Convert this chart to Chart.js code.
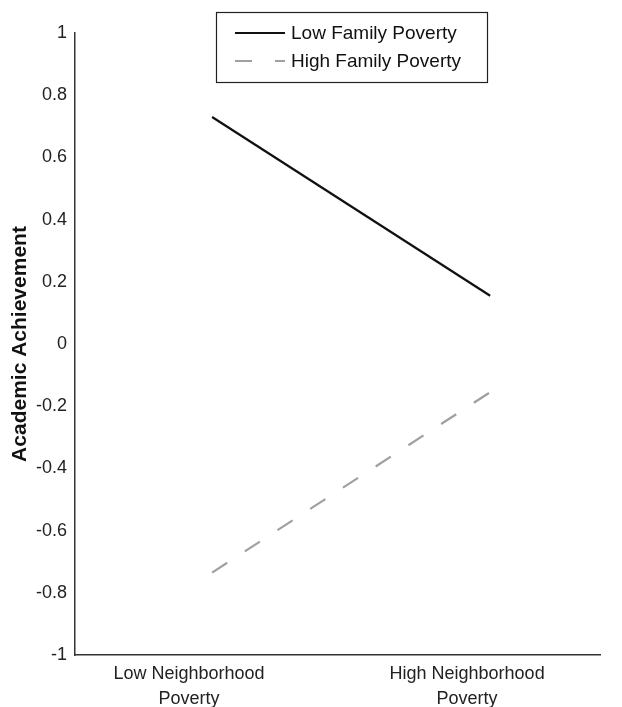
<!DOCTYPE html>
<html>
<head>
<meta charset="utf-8">
<script src="https://cdn.jsdelivr.net/npm/chart.js@4/dist/chart.umd.min.js"></script>
<style>
  html, body { margin:0; padding:0; background:#fff; }
  #wrap { width:622px; height:707px; position:relative; }
</style>
</head>
<body>
<div id="wrap"><canvas id="chart" width="622" height="707"></canvas></div>
<script>
// categories (x positions 0 and 1) and series values
const categories = [['Low Neighborhood', 'Poverty'], ['High Neighborhood', 'Poverty']];
const pointX = [0.083, 1.083];
const lowFamily = [0.73, 0.155];
const highFamily = [-0.735, -0.155];
const seriesNames = ['Low Family Poverty', 'High Family Poverty'];
const yTicks = [-1, -0.8, -0.6, -0.4, -0.2, 0, 0.2, 0.4, 0.6, 0.8, 1];

const FONT = "'Liberation Sans', Arial, sans-serif";

// legend box drawn on canvas with a frame
const boxLegend = {
    id: 'boxLegend',
    afterDraw(chart){
        const ctx = chart.ctx
        const x0 = 216.5, y0 = 12.5, w = 271, h = 70
        ctx.save()
        ctx.strokeStyle = '#222'
        ctx.lineWidth = 1.2
        ctx.strokeRect(x0, y0, w, h)
        chart.data.datasets.forEach(function(ds, i){
            const y = 33 + i * 28
            ctx.beginPath()
            ctx.strokeStyle = ds.borderColor
            ctx.lineWidth = 2
            ctx.setLineDash(ds.borderDash ? [17, 23] : [])
            ctx.moveTo(235, y)
            ctx.lineTo(285, y)
            ctx.stroke()
            ctx.setLineDash([])
            ctx.fillStyle = '#111'
            ctx.font = '19px ' + FONT
            ctx.textBaseline = 'middle'
            ctx.fillText(ds.label, 291, y + 1)
        })
        ctx.restore()
    }
}

const ctx = document.getElementById('chart').getContext('2d');
const myChart = new Chart(ctx, {
    type: 'line',
    data: {
        datasets: [{
            label: seriesNames[0],
            data: pointX.map(function(x, i){ return {x: x, y: lowFamily[i]} }),
            borderColor: '#111',
            borderWidth: 2.2,
            pointRadius: 0,
            fill: false
        }, {
            label: seriesNames[1],
            data: pointX.map(function(x, i){ return {x: x, y: highFamily[i]} }),
            borderColor: '#a0a0a0',
            borderWidth: 2.2,
            borderDash: [18, 21],
            pointRadius: 0,
            fill: false
        }]
    },
    options: {
        responsive: false,
        animation: false,
        layout: { padding: { top: 33, right: 22, left: 0, bottom: 0 } },
        plugins: {
            legend: { display: false },
            tooltip: { enabled: false }
        },
        scales: {
            x: {
                type: 'linear',
                min: -0.41,
                max: 1.478,
                afterBuildTicks: function(axis){
                    axis.ticks = categories.map(function(c, i){ return {value: i} })
                },
                afterFit: function(axis){ axis.height = 52 },
                grid: { display: false, drawTicks: false },
                border: { display: true, color: '#333', width: 1.5 },
                ticks: {
                    color: '#222',
                    padding: 7,
                    maxRotation: 0,
                    autoSkip: false,
                    font: { family: FONT, size: 18, lineHeight: 1.39 },
                    callback: function(v){ return categories[v] }
                }
            },
            y: {
                min: -1,
                max: 1,
                afterBuildTicks: function(axis){
                    axis.ticks = yTicks.map(function(v){ return {value: v} })
                },
                afterFit: function(axis){ axis.width = 75 },
                grid: { display: false, drawTicks: false },
                border: { display: true, color: '#333', width: 1.5 },
                title: {
                    display: true,
                    text: 'Academic Achievement',
                    color: '#111',
                    padding: { top: 8, bottom: 0 },
                    font: { family: FONT, size: 21, weight: 'bold' }
                },
                ticks: {
                    color: '#222',
                    padding: 8,
                    font: { family: FONT, size: 18 },
                    callback: function(v){ return String(Math.round(v * 10) / 10) }
                }
            }
        }
    },
    plugins: [boxLegend]
});
</script>
</body>
</html>
